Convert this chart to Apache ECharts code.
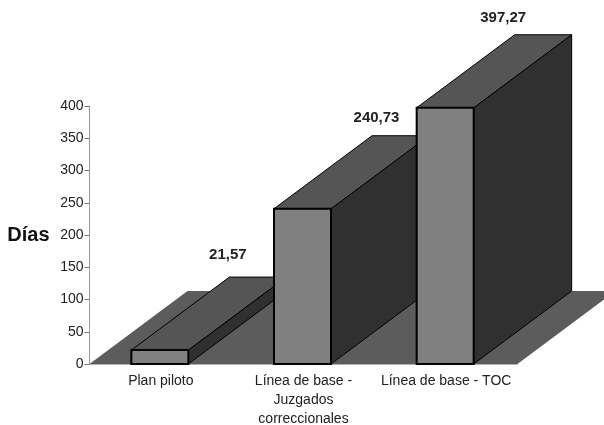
<!DOCTYPE html>
<html><head><meta charset="utf-8">
<style>html,body{margin:0;padding:0;background:#fff}#c{width:604px;height:425px}</style>
<script src="https://cdn.jsdelivr.net/npm/echarts@6/dist/echarts.min.js"></script>
</head><body><div id="c"></div>
<script>
const categories = ['Plan piloto', 'Línea de base -\nJuzgados\ncorreccionales', 'Línea de base - TOC'];
const values = [21.57, 240.73, 397.27];
const valueLabels = ['21,57', '240,73', '397,27'];
const axisName = 'Días';

// layout constants of the pseudo-3D look (not data)
const DEPTH_X = 98, DEPTH_Y = 73, BAR_W = 57;
const LABEL_SHIFT = [[-31, -22], [-25, -18], [-41, -17]];

const chart = echarts.init(document.getElementById('c'), null, {renderer: 'canvas'});
const poly = (points, fill, lw) => ({
  type: 'polygon',
  shape: {points},
  style: {fill, stroke: '#000', lineWidth: lw, lineJoin: 'miter'}
});

chart.setOption({
  animation: false,
  backgroundColor: '#fff',
  textStyle: {fontFamily: '"Liberation Sans", Arial, sans-serif'},
  grid: {left: 89.5, right: 86.5, top: 106, bottom: 61, containLabel: false, outerBoundsMode: 'none'},
  xAxis: {
    type: 'category', data: categories,
    axisTick: {show: false},
    axisLine: {lineStyle: {color: '#b0b0b0', width: 1}},
    axisLabel: {interval: 0, color: '#222', fontSize: 14, lineHeight: 19, margin: 8, fontFamily: '"Liberation Sans", Arial, sans-serif'}
  },
  yAxis: {
    type: 'value', min: 0, max: 400, interval: 50,
    name: axisName, nameLocation: 'middle', nameRotate: 0, nameGap: 40,
    nameTextStyle: {fontSize: 20, fontWeight: 'bold', color: '#111', align: 'right', verticalAlign: 'middle', fontFamily: '"Liberation Sans", Arial, sans-serif'},
    splitLine: {show: false},
    axisLine: {show: true, lineStyle: {color: '#999', width: 1}},
    axisTick: {show: true, length: 5, lineStyle: {color: '#777', width: 1}},
    axisLabel: {color: '#222', fontSize: 14, margin: 6, fontFamily: '"Liberation Sans", Arial, sans-serif'}
  },
  series: [
    {
      type: 'custom', coordinateSystem: 'cartesian2d', silent: true, clip: false, z: 1,
      data: [[0, 0]],
      renderItem(params, api) {
        const cs = params.coordSys;
        const x0 = cs.x, x1 = cs.x + cs.width, y = api.coord([0, 0])[1];
        return {
          type: 'polygon',
          shape: {points: [[x0, y], [x1, y], [x1 + DEPTH_X, y - DEPTH_Y], [x0 + DEPTH_X, y - DEPTH_Y]]},
          style: {fill: '#5c5c5c', stroke: null}
        };
      }
    },
    {
      type: 'custom', coordinateSystem: 'cartesian2d', silent: true, clip: false, z: 2,
      data: values.map((v, i) => [i, v]),
      renderItem(params, api) {
        const i = api.value(0), top = api.coord([i, api.value(1)]), base = api.coord([i, 0]);
        const l = top[0] - BAR_W / 2 - 1, r = top[0] + BAR_W / 2 - 1, t = top[1], b = base[1];
        const dx = DEPTH_X, dy = DEPTH_Y, s = LABEL_SHIFT[i];
        return {
          type: 'group',
          children: [
            poly([[r, b], [r + dx, b - dy], [r + dx, t - dy], [r, t]], '#303030', 1),
            poly([[l, t], [r, t], [r + dx, t - dy], [l + dx, t - dy]], '#555555', 1),
            poly([[l, t], [r, t], [r, b], [l, b]], '#808080', 2),
            {
              type: 'text',
              style: {
                x: top[0] + dx + s[0], y: t - dy + s[1],
                text: valueLabels[i], fill: '#222', align: 'center', verticalAlign: 'middle',
                font: 'bold 15px "Liberation Sans", Arial, sans-serif'
              }
            }
          ]
        };
      }
    }
  ]
});
</script></body></html>
